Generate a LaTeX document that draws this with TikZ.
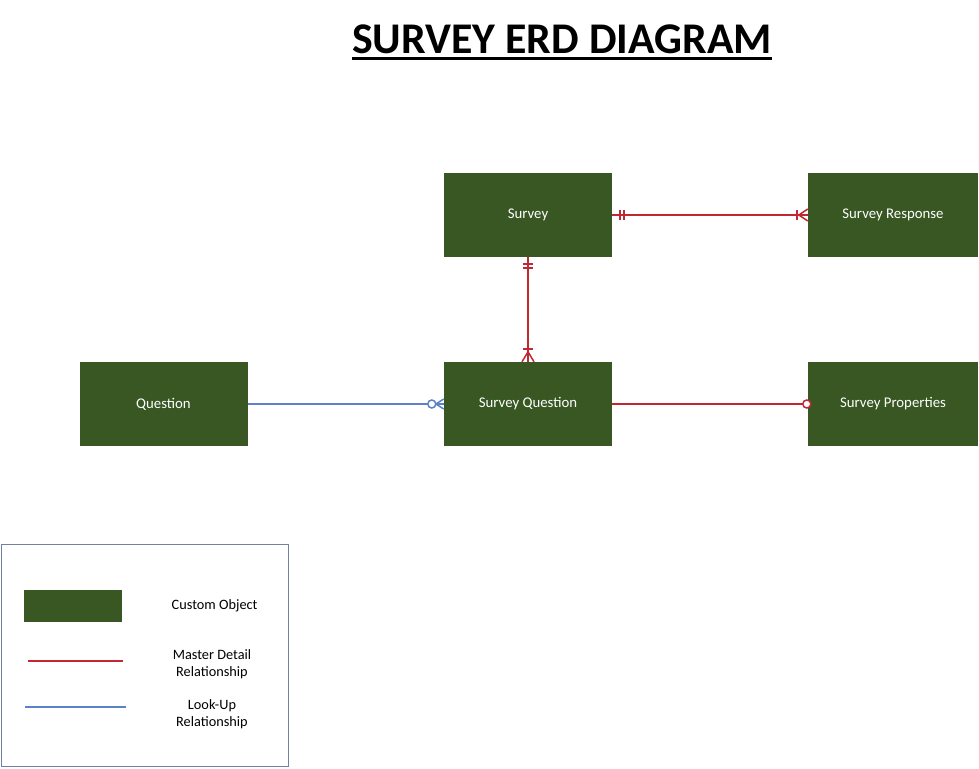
\documentclass[tikz,border=0pt]{standalone}
\usepackage{fontspec}
\setmainfont{Carlito}
\usepackage{xcolor}
\usetikzlibrary{positioning}
\definecolor{objgreen}{RGB}{56,87,35}
\definecolor{mdred}{RGB}{192,40,50}
\definecolor{lublue}{RGB}{91,130,200}
\definecolor{legframe}{RGB}{110,130,160}
\tikzset{
  entity/.style={fill=objgreen, minimum width=168pt, minimum height=84pt,
    text=white, font=\fontsize{14.8}{17}\selectfont, inner sep=0pt},
  mdline/.style={mdred, line width=1.5pt},
  luline/.style={lublue, line width=1.5pt},
  legtext/.style={font=\fontsize{14.3}{17.5}\selectfont, align=center}
}

\begin{document}
\begin{tikzpicture}[x=1pt, y=-1pt]
        \useasboundingbox (0,0) rectangle (979,768);
        % Title
        \node[font=\bfseries\fontsize{43.8}{50}\selectfont, inner sep=0pt, anchor=base] (title) at (562,53) {SURVEY ERD DIAGRAM};
        \draw[line width=3pt] (title.west |- 0,58.5) -- (title.east |- 0,58.5);
        % Objects
        \node[entity] (sv) at (528,215) {Survey};
        \node[entity, minimum width=170pt] (sr) at (893,215) {Survey Response};
        \node[entity] (q) at (163.5,404) {Question};
        \node[entity] (sq) at (528,404) {Survey Question};
        \node[entity, minimum width=170pt] (sp) at (893,404) {Survey Properties};
        % Survey to Survey Response
        \draw[mdline] (sv.east) -- (sr.west);
        \draw[mdline] ([xshift=8pt]sv.east) ++(0,-5) -- ++(0,10);
        \draw[mdline] ([xshift=12pt]sv.east) ++(0,-5) -- ++(0,10);
        \draw[mdline] ([xshift=-11pt]sr.west) ++(0,-5) -- ++(0,10);
        \draw[mdline] ([xshift=-9pt]sr.west) -- ([yshift=-6pt]sr.west);
        \draw[mdline] ([xshift=-9pt]sr.west) -- ([yshift=6pt]sr.west);
        % Survey to Survey Question
        \draw[mdline] (sv.south) -- (sq.north);
        \draw[mdline] ([yshift=-7pt]sv.south) ++(-5,0) -- ++(10,0);
        \draw[mdline] ([yshift=-11pt]sv.south) ++(-5,0) -- ++(10,0);
        \draw[mdline] ([yshift=13pt]sq.north) ++(-5,0) -- ++(10,0);
        \draw[mdline] ([yshift=10pt]sq.north) -- ([xshift=-6pt]sq.north);
        \draw[mdline] ([yshift=10pt]sq.north) -- ([xshift=6pt]sq.north);
        % Question to Survey Question
        \draw[luline] (q.east) -- ([xshift=-16pt]sq.west);
        \draw[luline] ([xshift=-8pt]sq.west) -- (sq.west);
        \draw[luline] ([xshift=-8pt]sq.west) -- ([yshift=-5pt]sq.west);
        \draw[luline] ([xshift=-8pt]sq.west) -- ([yshift=5pt]sq.west);
        \draw[luline, fill=white] ([xshift=-12pt]sq.west) circle (4pt);
        % Survey Question to Survey Properties
        \draw[mdline] (sq.east) -- ([xshift=-4pt]sp.west);
        \draw[mdline, fill=white] ([xshift=-1pt]sp.west) circle (4pt);
        % Legend
        \draw[legframe, line width=1pt] (1,544) rectangle (288,766);
        \node[fill=objgreen, minimum width=98pt, minimum height=32pt, inner sep=0pt] (legobj) at (73,606) {};
        \node[legtext, right=46pt of legobj] (legobjtxt) {Custom Object};
        \coordinate (mdA) at (28,661);
        \coordinate (mdB) at (123,661);
        \draw[mdline] (mdA) -- (mdB);
        \node[legtext] (legmd) at (212,664) {Master Detail\\Relationship};
        \coordinate (luA) at (25,707);
        \coordinate (luB) at (126,707);
        \draw[luline] (luA) -- (luB);
        \node[legtext] (leglu) at (212,714) {Look-Up\\Relationship};
      \end{tikzpicture}
\end{document}
